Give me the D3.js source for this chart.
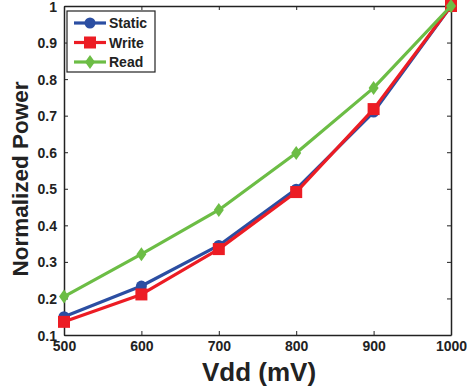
<!DOCTYPE html>
<html><head><meta charset="utf-8">
<script src="https://cdn.jsdelivr.net/npm/d3@7"></script>
<style>body{margin:0;background:#fff}svg{display:block}</style>
</head><body>
<svg id="c" width="467" height="387"></svg>
<script>
const vdd = [500, 600, 700, 800, 900, 1000];
const staticP = [0.150, 0.234, 0.345, 0.499, 0.710, 1.0];
const writeP  = [0.136, 0.211, 0.335, 0.491, 0.718, 1.0];
const readP   = [0.205, 0.321, 0.442, 0.598, 0.776, 1.0];
const xTicks = [500, 600, 700, 800, 900, 1000];
const yTicks = [0.1, 0.2, 0.3, 0.4, 0.5, 0.6, 0.7, 0.8, 0.9, 1];
const seriesNames = ["Static", "Write", "Read"];

const colors = {Static: "#2b4ea2", Write: "#ec1c24", Read: "#6cbd45"};
const series = [
  {name: "Static", values: staticP, marker: "circle"},
  {name: "Write", values: writeP, marker: "square"},
  {name: "Read", values: readP, marker: "diamond"}
];

const svg = d3.select("#c");
const L = 64, R = 451, T = 6, B = 335;
const x = d3.scaleLinear().domain([500, 1000]).range([L, R]);
const y = d3.scaleLinear().domain([0.1, 1]).range([B, T]);
const font = "Arial, 'Liberation Sans', Helvetica, sans-serif";

// axes with inward ticks
const gx = svg.append("g").attr("transform", `translate(0,${B})`)
  .call(d3.axisBottom(x).tickValues(xTicks).tickSizeInner(-4).tickSizeOuter(0).tickPadding(6.5).tickFormat(d3.format("d")));
const gy = svg.append("g").attr("transform", `translate(${L},0)`)
  .call(d3.axisLeft(y).tickValues(yTicks).tickSizeInner(-4).tickSizeOuter(0).tickPadding(7).tickFormat(d => d === 1 ? "1" : d3.format(".1f")(d)));
const gt = svg.append("g").attr("transform", `translate(0,${T})`)
  .call(d3.axisTop(x).tickValues(xTicks).tickSizeInner(-4).tickSizeOuter(0).tickFormat(""));
const gr = svg.append("g").attr("transform", `translate(${R},0)`)
  .call(d3.axisRight(y).tickValues(yTicks).tickSizeInner(-4).tickSizeOuter(0).tickFormat(""));
[gx, gy, gt, gr].forEach(g => {
  g.select(".domain").attr("stroke", "#222").attr("stroke-width", 1.5);
  g.selectAll(".tick line").attr("stroke", "#222").attr("stroke-width", 1);
  g.selectAll("text").attr("font-family", font).attr("font-weight", "bold")
    .attr("font-size", 14).attr("fill", "#222");
});
gy.selectAll("text").attr("dy", "0.36em");

const line = d3.line().x((d, i) => x(vdd[i])).y(d => y(d));

function drawMarker(g, type, cx, cy, col) {
  if (type === "circle") g.append("circle").attr("cx", cx).attr("cy", cy).attr("r", 5.5).attr("fill", col);
  else if (type === "square") g.append("rect").attr("x", cx - 6).attr("y", cy - 6).attr("width", 12).attr("height", 12).attr("fill", col);
  else g.append("path").attr("d", `M${cx},${cy-7}L${cx+5},${cy}L${cx},${cy+7}L${cx-5},${cy}Z`).attr("fill", col);
}

const plot = svg.append("g");
series.forEach(s => {
  const col = colors[s.name];
  plot.append("path").datum(s.values).attr("d", line).attr("fill", "none")
    .attr("stroke", col).attr("stroke-width", 3.2).attr("stroke-linejoin", "round");
  s.values.forEach((v, i) => drawMarker(plot, s.marker, x(vdd[i]), y(v), col));
});

// legend
const lg = svg.append("g");
lg.append("rect").attr("x", 67).attr("y", 11).attr("width", 88).attr("height", 61)
  .attr("fill", "#fff").attr("stroke", "#222").attr("stroke-width", 1.2);
series.forEach((s, i) => {
  const yy = 23 + i * 19.5, col = colors[s.name];
  lg.append("line").attr("x1", 74).attr("x2", 106).attr("y1", yy).attr("y2", yy)
    .attr("stroke", col).attr("stroke-width", 3.2);
  drawMarker(lg, s.marker, 90, yy, col);
  lg.append("text").attr("x", 109).attr("y", yy).attr("dy", "0.36em").text(seriesNames[i])
    .attr("font-family", font).attr("font-weight", "bold").attr("font-size", 14).attr("fill", "#222");
});

// axis labels
svg.append("text").attr("x", 259).attr("y", 381).attr("text-anchor", "middle")
  .attr("font-family", font).attr("font-weight", "bold").attr("font-size", 26).attr("fill", "#222")
  .text("Vdd (mV)");
svg.append("text").attr("transform", `translate(28,179) rotate(-90)`).attr("text-anchor", "middle")
  .attr("font-family", font).attr("font-weight", "bold").attr("font-size", 22.5).attr("fill", "#222")
  .text("Normalized Power");
</script>
</body></html>
